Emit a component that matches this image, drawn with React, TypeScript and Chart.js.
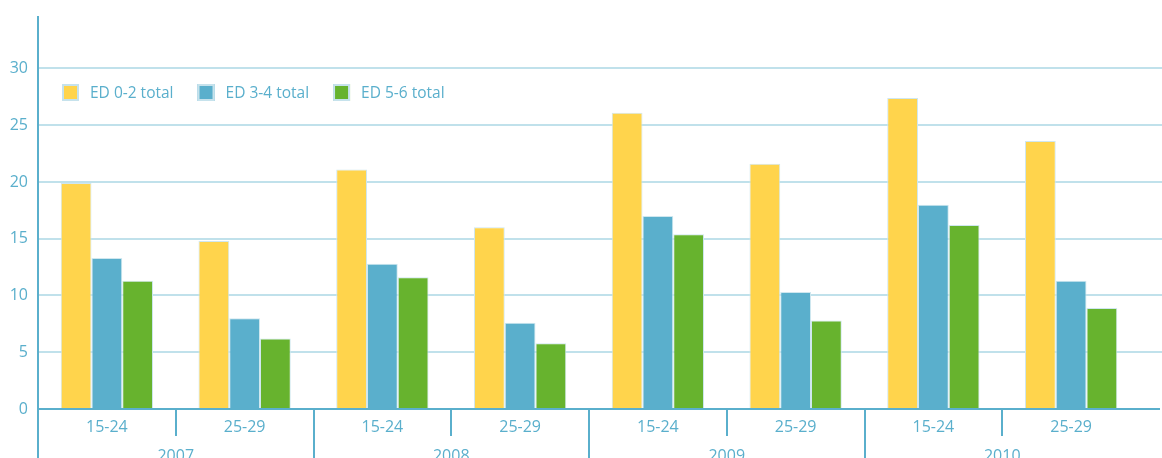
import React, { useEffect, useRef } from "react";
import { Chart, registerables } from "chart.js";

Chart.register(...registerables);

const categories = ["15-24", "25-29", "15-24", "25-29", "15-24", "25-29", "15-24", "25-29"];
const years = ["2007", "2008", "2009", "2010"];
const seriesNames = ["ED 0-2 total", "ED 3-4 total", "ED 5-6 total"];
const ed02 = [19.9, 14.8, 21.1, 16.0, 26.1, 21.6, 27.4, 23.6];
const ed34 = [13.3, 8.0, 12.8, 7.6, 17.0, 10.3, 18.0, 11.3];
const ed56 = [11.3, 6.2, 11.6, 5.8, 15.4, 7.8, 16.2, 8.9];
const yTicksMax = 30;
const yMax = 34.3;

const COLORS = ["#ffd44c", "#5aafcc", "#67b32e"];
const TEXT = "#5aafcc";
const GRID = "#c0e1eb";
const AXIS = "#5aafcc";
const FONT = "'Open Sans', 'Noto Sans', sans-serif";

export default function App() {
  const ref = useRef<HTMLCanvasElement | null>(null);

  useEffect(() => {
    document.body.style.margin = "0";
    document.body.style.overflow = "hidden";
    const canvas = ref.current;
    if (!canvas) return;

    const customLegend = {
      id: "customLegend",
      afterDraw(chart: any) {
        const { ctx } = chart;
        ctx.save();
        ctx.font = `15.5px ${FONT}`;
        ctx.textBaseline = "middle";
        ctx.textAlign = "left";
        let x = 62;
        const top = 84;
        const size = 17;
        chart.data.datasets.forEach((ds: any) => {
          ctx.fillStyle = ds.backgroundColor;
          ctx.fillRect(x, top, size, size);
          ctx.strokeStyle = "#c6e2ec";
          ctx.lineWidth = 2;
          ctx.strokeRect(x + 1, top + 1, size - 2, size - 2);
          ctx.fillStyle = TEXT;
          const tx = x + size + 11;
          ctx.fillText(ds.label, tx, top + size / 2 + 1);
          x = tx + ctx.measureText(ds.label).width + 24;
        });
        ctx.restore();
      },
    };

    const extendGrid = {
      id: "extendGrid",
      afterDraw(chart: any) {
        const { ctx, chartArea } = chart;
        const y = chart.scales.y;
        ctx.save();
        ctx.strokeStyle = GRID;
        ctx.lineWidth = 2;
        y.ticks.forEach((t: any) => {
          if (t.value === 0) return;
          const py = Math.round(y.getPixelForValue(t.value));
          ctx.beginPath();
          ctx.moveTo(chartArea.right, py);
          ctx.lineTo(chart.width, py);
          ctx.stroke();
        });
        ctx.strokeStyle = AXIS;
        ctx.lineWidth = 2;
        const py0 = Math.round(y.getPixelForValue(0));
        ctx.beginPath();
        ctx.moveTo(chartArea.right, py0);
        ctx.lineTo(chart.width - 2, py0);
        ctx.stroke();
        // extend the y axis line up to the top of the frame
        const ax = Math.round(chartArea.left);
        ctx.beginPath();
        ctx.moveTo(ax, 16);
        ctx.lineTo(ax, chartArea.top + 1);
        ctx.stroke();
        ctx.restore();
      },
    };

    const data = [ed02, ed34, ed56];
    const chart = new Chart(canvas, {
      type: "bar",
      data: {
        labels: categories,
        datasets: seriesNames.map((name, i) => ({
          label: name,
          data: data[i],
          backgroundColor: COLORS[i],
          borderColor: "#cfe7ef",
          borderWidth: 1,
          xAxisID: "x",
          yAxisID: "y",
        })),
      },
      options: {
        responsive: false,
        animation: false,
        maintainAspectRatio: false,
        layout: { padding: { top: 13, right: 22, left: 0, bottom: 0 } },
        datasets: {
          bar: { categoryPercentage: 0.67, barPercentage: 1 },
        },
        plugins: {
          tooltip: { enabled: false },
          legend: { display: false },
        },
        scales: {
          x: {
            type: "category",
            position: "bottom",
            offset: true,
            grid: {
              display: true,
              drawOnChartArea: false,
              drawTicks: true,
              tickLength: 27,
              color: (ctx: any) => (ctx.tick ? AXIS : "transparent"),
              lineWidth: 2,
              offset: true,
            },
            border: { display: true, color: AXIS, width: 2 },
            ticks: {
              color: TEXT,
              font: { family: FONT, size: 16 },
              padding: -18,
              maxRotation: 0,
              autoSkip: false,
            },
            afterFit: (s: any) => {
              s.height = 27;
            },
          },
          x2: {
            type: "category",
            position: "bottom",
            labels: years,
            offset: true,
            grid: {
              display: true,
              drawOnChartArea: false,
              drawTicks: true,
              tickLength: 30,
              color: (ctx: any) => (ctx.tick ? AXIS : "transparent"),
              lineWidth: 2,
              offset: true,
            },
            border: { display: false },
            ticks: {
              color: TEXT,
              font: { family: FONT, size: 16 },
              padding: -19,
              maxRotation: 0,
              autoSkip: false,
            },
            afterFit: (s: any) => {
              s.height = 22;
            },
          },
          y: {
            type: "linear",
            min: 0,
            max: yMax,
            grid: {
              color: GRID,
              lineWidth: 2,
              drawTicks: false,
            },
            border: { display: true, color: AXIS, width: 2 },
            ticks: {
              stepSize: 5,
              color: TEXT,
              padding: 10,
              font: { family: FONT, size: 16 },
            },
            afterBuildTicks: (s: any) => {
              s.ticks = s.ticks.filter((t: any) => t.value <= yTicksMax);
            },
            afterFit: (s: any) => {
              s.width = 38;
            },
          },
        },
      },
      plugins: [customLegend, extendGrid],
    } as any);

    return () => chart.destroy();
  }, []);

  return (
    <div style={{ width: 1162, height: 458 }}>
      <canvas ref={ref} width={1162} height={458} style={{ display: "block", width: 1162, height: 458 }} />
    </div>
  );
}
